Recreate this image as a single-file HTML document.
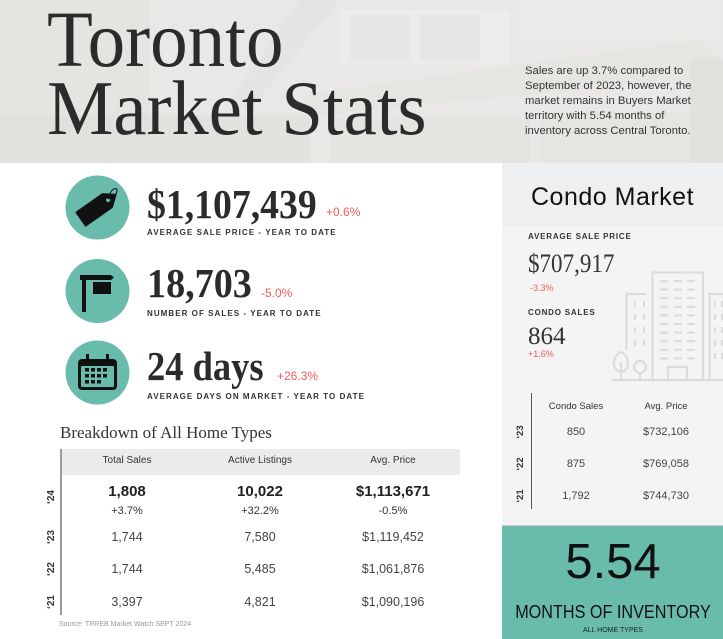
<!DOCTYPE html>
<html><head><meta charset="utf-8"><style>
*{margin:0;padding:0;box-sizing:border-box}
body{width:723px;height:639px;overflow:hidden;background:#fff;position:relative;font-family:"Liberation Sans",sans-serif;color:#333}
.a{position:absolute;white-space:nowrap}
.serif{font-family:"Liberation Serif",serif}
.lab{font-weight:bold;font-size:8px;letter-spacing:0.8px;color:#333;line-height:8px}
.red{color:#f25b5b}
.c{text-align:center;transform:translateX(-50%)}
.rot{transform:translate(-50%,-50%) rotate(-90deg);font-weight:bold;color:#333}
</style></head><body>

<!-- header background -->
<svg class="a" style="left:0;top:0" width="723" height="163" viewBox="0 0 723 163">
<rect width="723" height="163" fill="#e9e8e6"/>
<rect x="0" y="0" width="150" height="163" fill="#e5e4e1"/>
<rect x="0" y="115" width="310" height="48" fill="#e0dedb" opacity="0.6"/>
<polygon points="300,0 340,0 250,110 230,100" fill="#e0dfdc" opacity="0.4"/>
<rect x="340" y="10" width="170" height="55" fill="#edecea"/>
<rect x="350" y="15" width="60" height="45" fill="#e7e6e4"/>
<rect x="420" y="15" width="60" height="45" fill="#e7e6e4"/>
<polygon points="300,95 700,40 723,60 723,75 320,115" fill="#e3e2df" opacity="0.6"/>
<rect x="330" y="118" width="200" height="45" fill="#e5e4e1"/>
<rect x="520" y="0" width="200" height="40" fill="#ebeae8"/>
<rect x="540" y="112" width="150" height="51" fill="#e6e5e2"/>
<rect x="690" y="60" width="33" height="103" fill="#e2e0dd"/>
</svg>

<div class="a serif" style="left:47px;top:1px;font-size:79px;line-height:79px;color:#2b2b2b;transform:scaleX(0.95);transform-origin:left top">Toronto</div>
<div class="a serif" style="left:47px;top:70px;font-size:77px;line-height:77px;color:#2b2b2b;transform:scaleX(0.97);transform-origin:left top">Market Stats</div>

<div class="a" style="left:525px;top:63.5px;font-size:11.3px;line-height:15px;color:#333">Sales are up 3.7% compared to<br>September of 2023, however, the<br>market remains in Buyers Market<br>territory with 5.54 months of<br>inventory across Central Toronto.</div>

<!-- right panel -->
<div class="a" style="left:502px;top:163px;width:221px;height:362px;background:#f4f4f4"></div>
<div class="a" style="left:502px;top:163px;width:221px;height:63px;background:#eeeff0"></div>

<!-- icons -->
<svg class="a" style="left:0;top:0" width="500" height="420" viewBox="0 0 500 420">
<circle cx="97.5" cy="207.5" r="32" fill="#69bbac"/>
<circle cx="97.5" cy="291" r="32" fill="#69bbac"/>
<circle cx="97.5" cy="372.5" r="32" fill="#69bbac"/>
<!-- tag -->
<g transform="translate(97.5,207.5) rotate(-35)">
<path d="M-20,-8 L12,-8 L22,0 L12,8 L-20,8 Z" fill="#111" stroke="#111" stroke-width="2" stroke-linejoin="round"/>
<circle cx="13" cy="0" r="2" fill="#69bbac"/>
</g>
<path d="M108,199 C110,190 116,186 117,190 C118,194 112,197 108,199" fill="none" stroke="#111" stroke-width="1"/>
<!-- sign -->
<rect x="82" y="275" width="4" height="37" fill="#111"/>
<path d="M80,275 H111 L114,277.5 L111,280 H80 Z" fill="#111"/>
<rect x="93" y="282" width="18" height="12" fill="#111"/>
<!-- calendar -->
<rect x="78" y="359" width="39" height="31" rx="4" fill="#111"/>
<rect x="81" y="366" width="33" height="21" rx="1" fill="#69bbac"/>
<rect x="86" y="354" width="3" height="8" fill="#111"/>
<rect x="106" y="354" width="3" height="8" fill="#111"/>
<g fill="#111">
<rect x="85" y="368" width="4" height="3.5"/><rect x="91" y="368" width="4" height="3.5"/><rect x="97" y="368" width="4" height="3.5"/><rect x="103" y="368" width="4" height="3.5"/>
<rect x="85" y="374" width="4" height="3.5"/><rect x="91" y="374" width="4" height="3.5"/><rect x="97" y="374" width="4" height="3.5"/><rect x="103" y="374" width="4" height="3.5"/>
<rect x="85" y="380" width="4" height="3.5"/><rect x="91" y="380" width="4" height="3.5"/><rect x="97" y="380" width="4" height="3.5"/>
</g>
</svg>

<!-- stats -->
<div class="a serif" style="left:147px;top:184px;font-size:41px;line-height:41px;font-weight:bold;color:#2b2b2b;transform:scaleX(0.92);transform-origin:left top">$1,107,439</div>
<div class="a red" style="left:326px;top:206px;font-size:12px;line-height:12px">+0.6%</div>
<div class="a lab" style="left:147px;top:229px;letter-spacing:1.05px">AVERAGE SALE PRICE - YEAR TO DATE</div>

<div class="a serif" style="left:147px;top:263px;font-size:41px;line-height:41px;font-weight:bold;color:#2b2b2b;transform:scaleX(0.93);transform-origin:left top">18,703</div>
<div class="a red" style="left:261px;top:287px;font-size:12px;line-height:12px">-5.0%</div>
<div class="a lab" style="left:147px;top:310px;letter-spacing:1.05px">NUMBER OF SALES - YEAR TO DATE</div>

<div class="a serif" style="left:147px;top:346px;font-size:41px;line-height:41px;font-weight:bold;color:#2b2b2b;transform:scaleX(0.89);transform-origin:left top">24 days</div>
<div class="a red" style="left:277px;top:370px;font-size:12px;line-height:12px">+26.3%</div>
<div class="a lab" style="left:147px;top:393px;letter-spacing:1.05px">AVERAGE DAYS ON MARKET - YEAR TO DATE</div>

<!-- breakdown -->
<div class="a serif" style="left:60px;top:424px;font-size:17px;line-height:17px;color:#333">Breakdown of All Home Types</div>
<div class="a" style="left:61px;top:449px;width:399px;height:26px;background:#ebebeb"></div>
<div class="a" style="left:60px;top:449px;width:2px;height:166px;background:#9a9a9a"></div>

<div class="a c" style="left:127px;top:456px;font-size:10px;line-height:10px">Total Sales</div>
<div class="a c" style="left:260px;top:456px;font-size:10px;line-height:10px">Active Listings</div>
<div class="a c" style="left:393px;top:456px;font-size:10px;line-height:10px">Avg. Price</div>

<div class="a c" style="left:127px;top:483.5px;font-size:15px;line-height:15px;font-weight:bold;color:#222">1,808</div>
<div class="a c" style="left:260px;top:483.5px;font-size:15px;line-height:15px;font-weight:bold;color:#222">10,022</div>
<div class="a c" style="left:393px;top:483.5px;font-size:15px;line-height:15px;font-weight:bold;color:#222">$1,113,671</div>
<div class="a c" style="left:127px;top:505.5px;font-size:11px;line-height:11px">+3.7%</div>
<div class="a c" style="left:260px;top:505.5px;font-size:11px;line-height:11px">+32.2%</div>
<div class="a c" style="left:393px;top:505.5px;font-size:11px;line-height:11px">-0.5%</div>

<div class="a c" style="left:127px;top:531px;font-size:12.5px;line-height:12px;color:#444">1,744</div>
<div class="a c" style="left:260px;top:531px;font-size:12.5px;line-height:12px;color:#444">7,580</div>
<div class="a c" style="left:393px;top:531px;font-size:12.5px;line-height:12px;color:#444">$1,119,452</div>
<div class="a c" style="left:127px;top:563px;font-size:12.5px;line-height:12px;color:#444">1,744</div>
<div class="a c" style="left:260px;top:563px;font-size:12.5px;line-height:12px;color:#444">5,485</div>
<div class="a c" style="left:393px;top:563px;font-size:12.5px;line-height:12px;color:#444">$1,061,876</div>
<div class="a c" style="left:127px;top:596px;font-size:12.5px;line-height:12px;color:#444">3,397</div>
<div class="a c" style="left:260px;top:596px;font-size:12.5px;line-height:12px;color:#444">4,821</div>
<div class="a c" style="left:393px;top:596px;font-size:12.5px;line-height:12px;color:#444">$1,090,196</div>

<div class="a rot" style="left:52px;top:497px;font-size:10px;line-height:10px">‘24</div>
<div class="a rot" style="left:52px;top:537px;font-size:10px;line-height:10px">‘23</div>
<div class="a rot" style="left:52px;top:569px;font-size:10px;line-height:10px">‘22</div>
<div class="a rot" style="left:52px;top:602px;font-size:10px;line-height:10px">‘21</div>

<div class="a" style="left:59px;top:620.5px;font-size:7px;line-height:7px;color:#999">Source: TRREB Market Watch SEPT 2024</div>

<!-- condo panel -->
<div class="a" style="left:531px;top:184.5px;font-size:25px;line-height:25px;color:#111;letter-spacing:0.5px">Condo Market</div>

<svg class="a" style="left:600px;top:268px" width="123" height="116" viewBox="600 268 123 116">
<g fill="none" stroke="#dcdcdc" stroke-width="2.2">
<path d="M612,380 H723"/>
<path d="M652.5,380 V272.5 H703 V380"/>
<path d="M668,380 V367 H687 V380"/>
<path d="M626.5,350 V294 H646"/>
<path d="M723,294 H709.5 V380"/>
<path d="M621,380 V362 M621,352 C612,356 611,370 621,372 C631,370 630,356 621,352 Z"/>
<circle cx="640" cy="367" r="6"/>
<path d="M640,373 V380"/>
</g>
<g stroke="#dcdcdc" stroke-width="2.2">
<path d="M660,281h8M674,281h8M687,281h8 M660,289.6h8M674,289.6h8M687,289.6h8 M660,298.2h8M674,298.2h8M687,298.2h8 M660,306.8h8M674,306.8h8M687,306.8h8 M660,315.4h8M674,315.4h8M687,315.4h8 M660,324h8M674,324h8M687,324h8 M660,332.6h8M674,332.6h8M687,332.6h8 M660,341.2h8M674,341.2h8M687,341.2h8 M660,349.8h8M674,349.8h8M687,349.8h8 M660,358.4h8M674,358.4h8M687,358.4h8"/>
<path d="M635,301v6M644,301v6 M635,314v6M644,314v6 M635,327v6M644,327v6 M635,340v6M644,340v6"/>
<path d="M715,301v6M722,301v6 M715,314v6M722,314v6 M715,327v6M722,327v6 M715,340v6M722,340v6 M715,353v6M722,353v6"/>
</g>
</svg>

<div class="a lab" style="left:528px;top:233px">AVERAGE SALE PRICE</div>
<div class="a serif" style="left:528px;top:250px;font-size:26.5px;line-height:26.5px;color:#333;transform:scaleX(0.87);transform-origin:left top">$707,917</div>
<div class="a red" style="left:530px;top:283.5px;font-size:9px;line-height:9px">-3.3%</div>
<div class="a lab" style="left:528px;top:309px">CONDO SALES</div>
<div class="a serif" style="left:528px;top:324px;font-size:25px;line-height:25px;color:#333">864</div>
<div class="a red" style="left:528px;top:349.5px;font-size:9px;line-height:9px">+1.6%</div>

<div class="a" style="left:530.5px;top:393px;width:1.5px;height:116px;background:#555"></div>
<div class="a c" style="left:576px;top:402px;font-size:9.5px;line-height:10px">Condo Sales</div>
<div class="a c" style="left:666px;top:402px;font-size:9.5px;line-height:10px">Avg. Price</div>
<div class="a c" style="left:576px;top:426.5px;font-size:11px;line-height:11px;color:#444">850</div>
<div class="a c" style="left:666px;top:426.5px;font-size:11px;line-height:11px;color:#444">$732,106</div>
<div class="a c" style="left:576px;top:458.5px;font-size:11px;line-height:11px;color:#444">875</div>
<div class="a c" style="left:666px;top:458.5px;font-size:11px;line-height:11px;color:#444">$769,058</div>
<div class="a c" style="left:576px;top:490.5px;font-size:11px;line-height:11px;color:#444">1,792</div>
<div class="a c" style="left:666px;top:490.5px;font-size:11px;line-height:11px;color:#444">$744,730</div>
<div class="a rot" style="left:521px;top:432px;font-size:9.5px;line-height:10px">‘23</div>
<div class="a rot" style="left:521px;top:464px;font-size:9.5px;line-height:10px">‘22</div>
<div class="a rot" style="left:521px;top:496px;font-size:9.5px;line-height:10px">‘21</div>

<!-- teal -->
<div class="a" style="left:502px;top:525px;width:221px;height:114px;background:#69bbac;border-top:1px solid #c9d3d0"></div>
<div class="a c" style="left:613px;top:538px;font-size:49px;line-height:49px;color:#111">5.54</div>
<div class="a" style="left:613px;top:603px;font-size:18px;line-height:18px;color:#111;transform:translateX(-50%) scaleX(0.9)">MONTHS OF INVENTORY</div>
<div class="a c" style="left:613px;top:626.5px;font-size:7px;line-height:7px;color:#222">ALL HOME TYPES</div>

</body></html>
